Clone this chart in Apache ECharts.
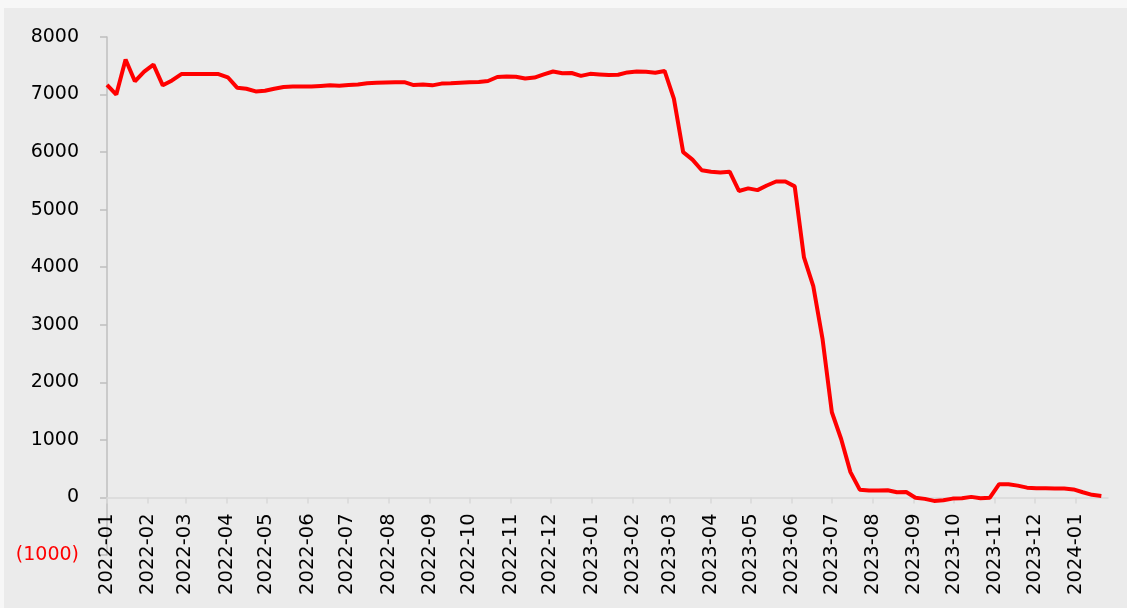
<!DOCTYPE html>
<html>
<head>
<meta charset="utf-8">
<script src="https://cdn.jsdelivr.net/npm/echarts@6/dist/echarts.min.js"></script>
<style>
  html, body { margin: 0; padding: 0; background: #f7f7f7; }
  #main { position: absolute; left: 4px; top: 8px; width: 1123px; height: 600px; background: #ebebeb; }
</style>
</head>
<body>
<div id="main"></div>
<script>
// weekly series, first point on 2022-01-01, one value per week
var startDate = [2022, 0, 1];
var weeklyValues = [
  7170, 7000, 7610, 7230, 7400, 7520, 7160, 7245, 7355, 7355,
  7355, 7355, 7355, 7300, 7120, 7100, 7055, 7065, 7100, 7130,
  7140, 7140, 7140, 7150, 7160, 7155, 7165, 7175, 7195, 7205,
  7210, 7215, 7215, 7165, 7175, 7160, 7190, 7195, 7205, 7215,
  7220, 7235, 7305, 7315, 7310, 7280, 7295, 7350, 7400, 7370,
  7375, 7325, 7360, 7350, 7340, 7345, 7385, 7400, 7395, 7380,
  7410, 6930, 6000, 5870, 5685, 5660, 5645, 5660, 5325, 5370,
  5340, 5420, 5490, 5490, 5405, 4170, 3670, 2750, 1480, 1015,
  440, 135, 120, 120, 125, 90, 95, -5, -25, -60,
  -50, -20, -15, 10, -15, -5, 230, 230, 205, 170,
  160, 160, 155, 155, 140, 90, 45, 25
];
var monthLabels = [
  '2022-01', '2022-02', '2022-03', '2022-04', '2022-05', '2022-06', '2022-07',
  '2022-08', '2022-09', '2022-10', '2022-11', '2022-12', '2023-01', '2023-02',
  '2023-03', '2023-04', '2023-05', '2023-06', '2023-07', '2023-08', '2023-09',
  '2023-10', '2023-11', '2023-12', '2024-01'
];
var yTicks = [-1000, 0, 1000, 2000, 3000, 4000, 5000, 6000, 7000, 8000];

var DAY = 24 * 3600 * 1000;
var t0 = new Date(startDate[0], startDate[1], startDate[2]).getTime();

// x positions in days since the first week
var monthTicks = monthLabels.map(function (m) {
  var p = m.split('-');
  return Math.round((new Date(+p[0], +p[1] - 1, 1).getTime() - t0) / DAY);
});

var seriesData = weeklyValues.map(function (v, i) {
  return [7 * i, v];
});

var gridTop = 29, gridBottom = 53, chartH = 600;
var yMin = yTicks[0], yMax = yTicks[yTicks.length - 1];
// lift the x axis from the grid bottom up to the zero line
var zeroOffset = -(chartH - gridTop - gridBottom) * (0 - yMin) / (yMax - yMin);

var chart = echarts.init(document.getElementById('main'));

var option = {
  animation: false,
  backgroundColor: 'transparent',
  grid: {
    left: 103,
    right: 19,
    top: gridTop,
    bottom: gridBottom,
    containLabel: false,
    outerBoundsMode: 'none'
  },
  xAxis: {
    type: 'value',
    min: 0,
    max: 754,
    offset: zeroOffset,
    axisLine: {
      onZero: false,
      lineStyle: { color: '#d9d9d9', width: 1.5 }
    },
    axisTick: {
      show: true,
      length: 6,
      customValues: monthTicks,
      lineStyle: { color: '#d9d9d9', width: 1.5 }
    },
    axisLabel: {
      rotate: 90,
      margin: 16,
      color: '#000',
      fontSize: 19.5,
      fontFamily: 'DejaVu Sans',
      customValues: monthTicks,
      formatter: function (value) {
        var idx = monthTicks.indexOf(value);
        return idx >= 0 ? monthLabels[idx] : '';
      }
    },
    splitLine: { show: false }
  },
  yAxis: {
    type: 'value',
    min: yMin,
    max: yMax,
    interval: 1000,
    axisLine: {
      show: true,
      lineStyle: { color: '#bfbfbf', width: 1.5 }
    },
    axisTick: {
      show: true,
      length: 7,
      lineStyle: { color: '#bfbfbf', width: 1.5 }
    },
    axisLabel: {
      margin: 28,
      color: '#000',
      fontSize: 19,
      fontFamily: 'DejaVu Sans',
      formatter: function (v) {
        if (v < 0) return '{neg|(' + Math.abs(v) + ')}';
        return String(v);
      },
      rich: {
        neg: { color: '#ff0000', fontSize: 19, fontFamily: 'DejaVu Sans' }
      }
    },
    splitLine: { show: false }
  },
  series: [
    {
      type: 'line',
      data: seriesData,
      showSymbol: false,
      symbol: 'none',
      lineStyle: { color: '#ff0000', width: 4 },
      itemStyle: { color: '#ff0000' }
    }
  ]
};

chart.setOption(option);
</script>
</body>
</html>
